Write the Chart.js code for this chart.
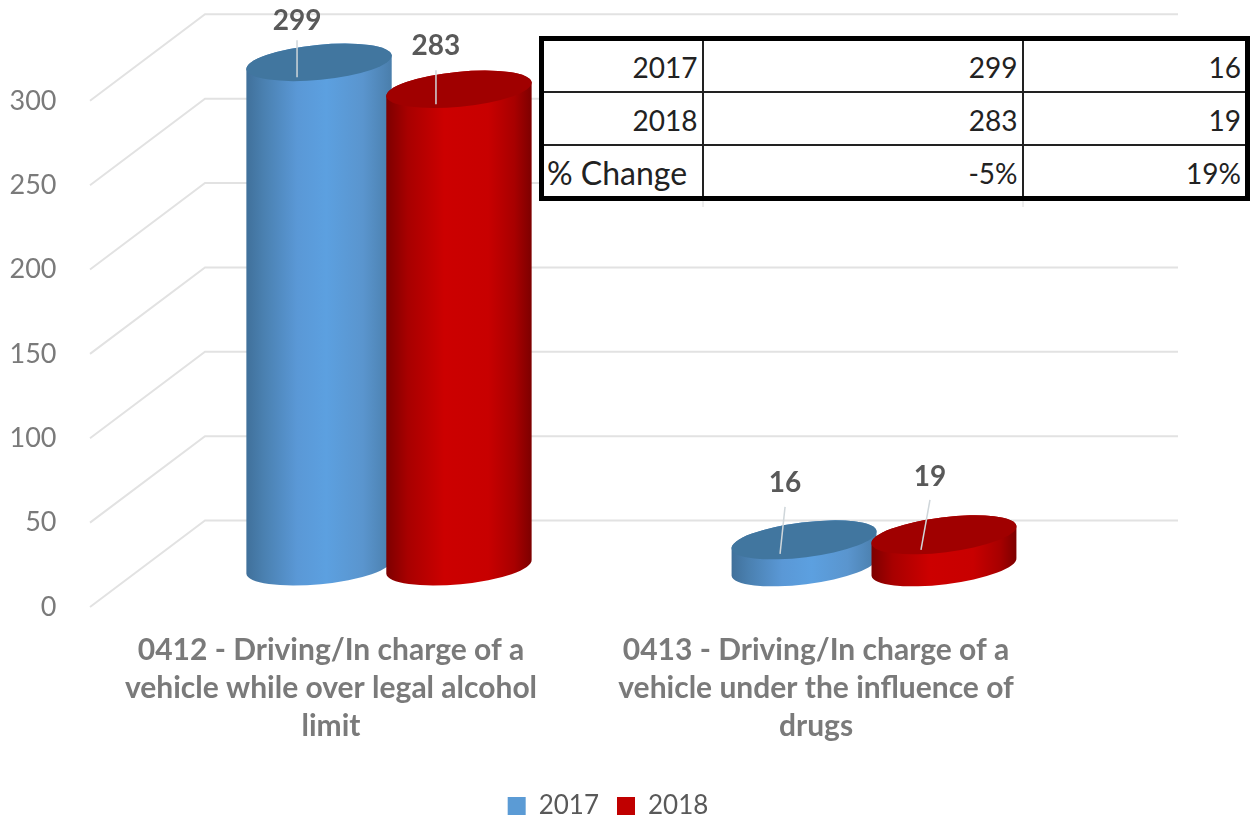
<!DOCTYPE html>
<html>
<head>
<meta charset="utf-8">
<script src="https://cdn.jsdelivr.net/npm/chart.js@4"></script>
<style>
html,body{margin:0;padding:0;background:#fff;overflow:hidden}
#wrap{position:relative;width:1251px;height:816px}
canvas{position:absolute;left:0;top:0}
#tbl{position:absolute;left:539px;top:36px;width:706px;height:165px;border-collapse:collapse;border:5px solid #000;table-layout:fixed;font:28px Lato,sans-serif;color:#222;background:#fff;box-sizing:border-box}
#tbl td{border:2px solid #222;height:53px;line-height:1;padding:3px 4px 0 3px;text-align:right;box-sizing:border-box;overflow:hidden;white-space:nowrap}
#tbl td.l{text-align:left;font-size:32px}
</style>
</head>
<body>
<div id="wrap">
<canvas id="c" width="1251" height="816"></canvas>
<table id="tbl"></table>
</div>
<script>
const categories = [
  ["0412 - Driving/In charge of a", "vehicle while over legal alcohol", "limit"],
  ["0413 - Driving/In charge of a", "vehicle under the influence of", "drugs"]
];
const seriesNames = ["2017", "2018"];
const values2017 = [299, 16];
const values2018 = [283, 19];
const yTicks = [0, 50, 100, 150, 200, 250, 300];
const tableRows = [
  ["2017", "299", "16"],
  ["2018", "283", "19"],
  ["% Change", "-5%", "19%"]
];
const colWidths = [161, 320, 225];

// table
const tbl = document.getElementById('tbl');
const cg = document.createElement('colgroup');
colWidths.forEach(w => { const col = document.createElement('col'); col.style.width = w + 'px'; cg.appendChild(col); });
tbl.appendChild(cg);
tableRows.forEach(r => {
  const tr = document.createElement('tr');
  r.forEach(t => {
    const td = document.createElement('td');
    td.textContent = t;
    if (t === '% Change') td.className = 'l';
    tr.appendChild(td);
  });
  tbl.appendChild(tr);
});

const GREY = '#7a7a7a';
const BLUE = '#5b9bd5', RED = '#c00000';

const stylePerBar = [
  [{tilt:-5.5, lx:-22, ly:-41, l0:[-22,-22], l1:[-22,15]}, {tilt:-7, lx:-19, ly:-57, l0:[-19,-33], l1:[-24,14]}],
  [{tilt:-5.5, lx:-23, ly:-43, l0:[-23,-19], l1:[-23,15]}, {tilt:-7, lx:-14, ly:-58, l0:[-14,-35], l1:[-23,15]}]
];
const palette = [
  {stops:[[0,'#40709a'],[.12,'#4a80b0'],[.35,'#5a98d6'],[.55,'#5ca0e0'],[.8,'#5a95ce'],[1,'#4a7eab']], top:'#41769f'},
  {stops:[[0,'#7c0000'],[.15,'#a80000'],[.4,'#cc0000'],[.7,'#c80000'],[.88,'#a80000'],[1,'#7c0000']], top:'#a00000'}
];

const depth3d = {
  id: 'depth3d',
  beforeDatasetsDraw(chart) {
    const {ctx, scales:{y}} = chart;
    ctx.save();
    ctx.strokeStyle = '#e2e2e2';
    ctx.lineWidth = 2;
    yTicks.forEach(v => {
      const py = y.getPixelForValue(v);
      ctx.beginPath();
      ctx.moveTo(90, py);
      ctx.lineTo(205, py - 86.5);
      ctx.lineTo(1178, py - 86.5);
      ctx.stroke();
    });
    ctx.restore();
  },
  afterDatasetsDraw(chart) {
    const ctx = chart.ctx;
    const rx = 73, ry = 17.5;
    [0, 1].forEach(i => {
      [0, 1].forEach(d => {
        const el = chart.getDatasetMeta(d).data[i];
        const cx = el.x, ty = el.y, by = el.base;
        const rot = stylePerBar[d][i].tilt * Math.PI / 180;
        const p = palette[d];
        const g = ctx.createLinearGradient(cx - rx, 0, cx + rx, 0);
        p.stops.forEach(s => g.addColorStop(s[0], s[1]));
        ctx.save();
        ctx.beginPath();
        ctx.ellipse(cx, by, rx, ry, rot, 0, Math.PI);
        ctx.ellipse(cx, ty, rx, ry, rot, Math.PI, 2 * Math.PI);
        ctx.closePath();
        ctx.fillStyle = g;
        ctx.fill();
        ctx.beginPath();
        ctx.ellipse(cx, ty, rx, ry, rot, 0, 2 * Math.PI);
        ctx.fillStyle = p.top;
        ctx.fill();
        ctx.restore();
      });
    });
    [0, 1].forEach(d => {
      chart.getDatasetMeta(d).data.forEach((el, i) => {
        const s = stylePerBar[d][i];
        ctx.save();
        ctx.strokeStyle = '#cfd6da';
        ctx.lineWidth = 1.5;
        ctx.beginPath();
        ctx.moveTo(el.x + s.l0[0], el.y + s.l0[1]);
        ctx.lineTo(el.x + s.l1[0], el.y + s.l1[1]);
        ctx.stroke();
        ctx.fillStyle = '#595959';
        ctx.font = 'bold 28px Lato, sans-serif';
        ctx.textAlign = 'center';
        ctx.textBaseline = 'middle';
        ctx.fillText(String(chart.data.datasets[d].data[i]), el.x + s.lx, el.y + s.ly);
        ctx.restore();
      });
    });
    ctx.save();
    ctx.strokeStyle = '#dcdcdc';
    ctx.lineWidth = 1;
    [703, 1023].forEach(x => { ctx.beginPath(); ctx.moveTo(x, 200); ctx.lineTo(x, 207); ctx.stroke(); });
    ctx.restore();
  }
};

new Chart(document.getElementById('c'), {
  type: 'bar',
  plugins: [depth3d],
  data: {
    labels: categories,
    datasets: [
      {label: seriesNames[0], data: values2017, backgroundColor: BLUE, borderWidth: 0, xAxisID: 'x', yAxisID: 'yBar', clip: false},
      {label: seriesNames[1], data: values2018, backgroundColor: RED, borderWidth: 0, xAxisID: 'x', yAxisID: 'yBar', clip: false}
    ]
  },
  options: {
    responsive: false,
    animation: false,
    layout: {padding: {top: 13, left: 0, right: 35, bottom: -13}},
    datasets: {bar: {categoryPercentage: 0.577, barPercentage: 0.9}},
    plugins: {
      tooltip: {enabled: false},
      legend: {
        display: true,
        position: 'bottom',
        labels: {boxWidth: 18, boxHeight: 18, padding: 18, color: '#595959', font: {family: 'Lato, sans-serif', size: 26}}
      }
    },
    scales: {
      x: {
        type: 'category',
        grid: {display: false},
        border: {display: false},
        afterFit(s) { s.height = 168; },
        ticks: {
          autoSkip: false, maxRotation: 0, minRotation: 0,
          labelOffset: -58, padding: 16,
          color: GREY,
          font: {family: 'Lato, sans-serif', size: 30, weight: 'bold', lineHeight: 1.27}
        }
      },
      y: {
        position: 'left',
        min: 0, max: 346.6,
        grid: {display: true, drawOnChartArea: false, drawTicks: true, tickLength: 84, tickColor: 'rgba(0,0,0,0)'},
        border: {display: false},
        afterBuildTicks(s) { s.ticks = yTicks.map(v => ({value: v})); },
        afterFit(s) { s.width = 146.5; },
        ticks: {
          padding: 6,
          color: GREY,
          font: {family: 'Lato, sans-serif', size: 27}
        }
      },
      yBar: {
        position: 'right',
        min: -23.8, max: 322.8,
        grid: {display: false},
        border: {display: false},
        ticks: {display: false},
        afterFit(s) { s.width = 99.5; }
      }
    }
  }
});
</script>
</body>
</html>
